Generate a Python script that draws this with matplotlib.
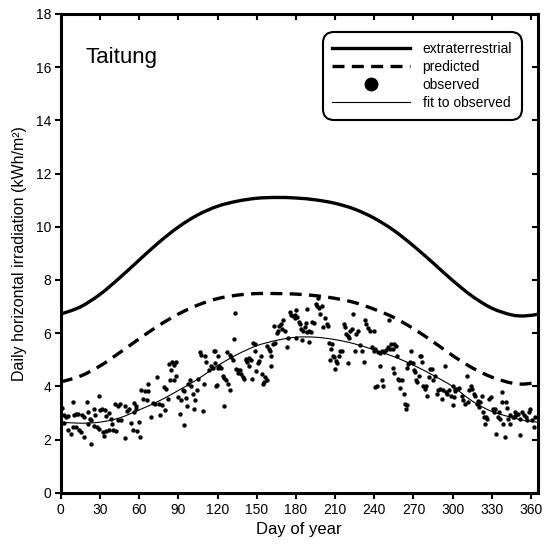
import matplotlib
matplotlib.use("Agg")
import matplotlib.pyplot as plt
from matplotlib.lines import Line2D
from matplotlib.path import Path
from matplotlib.patches import PathPatch

plt.rcParams['font.family'] = ['Liberation Sans', 'DejaVu Sans']

# Smooth curves (day of year -> kWh/m2)
curve_days = [0, 15, 30, 45, 60, 75, 90, 105, 120, 135, 150, 165, 180, 195, 210,
              225, 240, 255, 270, 285, 300, 315, 330, 345, 355, 365]
extraterrestrial = [6.72, 6.99, 7.46, 8.08, 8.75, 9.41, 9.99, 10.45, 10.77, 10.96, 11.07,
                    11.10, 11.08, 11.01, 10.88, 10.66, 10.32, 9.86, 9.28, 8.64, 7.98,
                    7.39, 6.94, 6.69, 6.65, 6.71]
predicted = [4.17, 4.39, 4.77, 5.27, 5.79, 6.29, 6.72, 7.06, 7.30, 7.43, 7.49, 7.49,
             7.47, 7.41, 7.31, 7.15, 6.90, 6.59, 6.17, 5.68, 5.16, 4.70, 4.35, 4.13,
             4.09, 4.16]
fit_observed = [2.66, 2.62, 2.66, 2.82, 3.12, 3.45, 3.85, 4.28, 4.78, 5.20, 5.53, 5.73,
                5.85, 5.85, 5.76, 5.60, 5.37, 5.12, 4.80, 4.42, 4.00, 3.45, 3.06, 2.84,
                2.72, 2.66]

# Observed daily values
obs_day = [
    1.0, 9.4, 20.3, 29.2, 2.5, 4.3, 5.6, 10.2, 11.9, 13.2, 16.3, 17.8, 20.8, 22.1, 23.4,
    25.4, 25.9, 30.3, 31.8, 33.6, 34.8, 36.6, 41.2, 43.7, 45.0, 48.8, 50.9, 51.9, 56.0,
    57.2, 56.4, 2.5, 5.6, 7.6, 9.4, 11.9, 13.7, 15.8, 17.8, 20.8, 23.4, 25.4, 28.0, 29.0,
    32.3, 33.1, 34.8, 36.6, 39.2, 40.2, 42.0, 49.3, 53.4, 55.4, 46.3, 38.1, 43.7,
    57.2, 58.5, 59.5, 60.3, 61.5, 62.8, 64.6, 66.1, 67.1, 66.6, 68.7, 70.4, 72.2, 73.7,
    75.5, 76.3, 77.8, 79.3, 79.8, 80.9, 81.9, 82.6, 83.9, 84.4, 85.4, 86.9, 88.0, 88.5,
    90.0, 91.5, 94.1, 94.6, 96.1, 96.6, 97.6, 98.7, 99.7, 101.2, 101.7, 103.0, 104.3,
    104.8, 106.3, 107.3, 108.8, 109.3, 110.4, 111.4, 113.4, 114.9, 116.5, 117.0, 118.0,
    119.0, 92.0, 93.3, 86.4,
    118.0, 120.0, 121.3, 122.6, 120.5, 123.8, 125.1, 126.4, 127.6, 129.7, 130.2, 119.5,
    124.6, 128.2, 129.2, 131.5, 132.2, 133.3, 134.3, 135.3, 136.0, 136.8, 137.8, 139.4,
    140.4, 141.4, 142.1, 142.9, 143.7, 144.4, 145.4, 146.5, 147.5, 148.5, 149.0, 149.5,
    151.0, 152.1, 153.1, 154.1, 155.1, 155.9, 156.6, 157.7, 158.2, 159.2, 160.0, 160.7,
    161.2, 162.2, 163.3, 164.3, 165.3, 166.3, 167.3, 168.3, 169.6, 170.4, 171.4, 172.9,
    173.9, 175.5, 176.5, 177.5, 179.0, 180.0,
    179.0, 180.0, 181.0, 182.1, 183.1, 184.1, 185.6, 186.6, 187.6, 188.2, 188.7, 189.7,
    191.2, 192.5, 193.8, 195.0, 196.3, 196.8, 197.8, 198.8, 199.9, 200.9, 202.4, 203.4,
    204.4, 184.9, 189.9, 205.4, 206.5, 207.5, 208.5, 209.5, 210.5, 211.6, 212.6, 214.1,
    215.6, 216.6, 217.7, 218.7, 219.7, 220.7, 221.7, 222.7, 223.8, 225.3, 226.3, 227.3,
    228.8, 230.4, 231.9, 232.9, 233.9, 234.9, 236.5, 238.5, 239.5, 240.5, 210.0, 220.2,
    206.0,
    240.0, 240.8, 242.6, 244.1, 245.9, 247.1, 249.2, 250.2, 250.9, 252.2, 252.7, 254.3,
    255.3, 256.3, 257.3, 244.6, 242.0, 245.6, 246.6, 254.8, 254.3, 257.8, 258.8, 260.9,
    259.8, 262.4, 263.4, 264.2, 264.9, 264.9, 265.9, 267.0, 268.0, 269.5, 270.5, 271.5,
    272.1, 272.8, 274.1, 274.6, 275.6, 276.6, 277.6, 278.7, 279.7, 280.2, 281.5, 282.7,
    284.3, 285.3, 286.5, 287.8, 289.1, 290.4, 291.6, 292.9, 294.2, 295.0, 296.0, 297.5,
    298.5, 300.0, 301.0, 301.8,
    300.5, 301.8, 303.6, 305.1, 306.9, 308.1, 309.7, 310.7, 311.9, 312.7, 313.7, 314.7,
    316.3, 317.3, 318.3, 319.1, 319.8, 320.8, 322.1, 323.4, 323.9, 324.7, 325.4, 326.4,
    328.0, 329.0, 330.5, 331.5, 332.3, 333.1, 334.8, 335.6, 336.1, 337.4, 338.1, 338.6,
    339.9, 340.7, 341.2, 342.5, 343.7, 344.2, 345.8, 346.8, 347.5, 348.8, 350.1, 351.4,
    351.9, 353.4, 354.4, 355.9, 357.0, 358.5, 359.5, 361.0, 362.0, 362.8,
]
obs_val = [
    3.20, 3.41, 3.41, 3.64, 2.91, 2.85, 2.88, 2.91, 2.98, 2.95, 2.93, 2.85, 3.04, 2.79, 2.73,
    3.16, 2.91, 3.13, 3.16, 3.13, 2.88, 3.00, 3.33, 3.25, 3.33, 3.25, 3.08, 3.16, 3.38,
    3.25, 3.04, 2.63, 2.38, 2.23, 2.48, 2.48, 2.35, 2.28, 2.10, 2.58, 1.85, 2.50, 2.48, 2.41,
    2.29, 2.13, 2.33, 2.35, 2.58, 2.35, 2.33, 2.08, 2.63, 2.35, 2.75, 2.79, 2.73,
    3.16, 2.33, 2.66, 2.10, 3.85, 3.54, 3.83, 3.48, 3.83, 4.08, 2.85, 3.38, 3.35, 4.35,
    3.35, 2.91, 3.29, 3.98, 3.10, 3.91, 3.54, 4.85, 4.25, 4.60, 4.91, 4.79, 4.91, 4.38,
    3.60, 2.95, 2.54, 3.83, 3.58, 3.25, 4.10, 4.23, 4.00, 3.73, 3.16, 3.48, 3.85,
    4.28, 5.29, 5.20, 3.08, 4.10, 5.13, 4.91, 4.60, 4.75, 4.70, 5.35, 4.88,
    4.00, 3.48, 3.85, 4.23,
    5.35, 5.16, 4.75, 4.70, 4.70, 4.41, 4.33, 4.25, 5.29, 5.20, 5.10, 4.04,
    3.25, 4.08, 3.88, 4.98, 5.79, 6.75, 4.66, 4.60, 4.50, 4.63, 4.45, 4.35,
    4.28, 4.98, 5.04, 4.91, 4.75, 5.08, 4.98, 4.28, 5.65, 5.58, 5.35, 4.58,
    4.88, 4.95, 5.15, 4.45, 4.08, 4.15, 4.35, 4.23, 5.53, 5.40, 5.33, 5.15,
    4.78, 5.60, 6.28, 5.63, 6.00, 6.10, 6.28, 6.33, 6.16, 6.48, 6.10, 5.48,
    5.83, 6.78, 6.70, 6.65, 6.58, 5.83,
    6.70, 6.88, 6.60, 6.41, 6.35, 6.16, 6.10, 6.23, 6.38, 6.04, 6.91, 6.10,
    6.04, 6.41, 6.38, 7.08, 7.03, 7.33, 6.95, 6.73, 7.03, 6.23, 6.58, 6.35,
    6.28, 5.73, 5.66, 5.65, 5.41, 5.60, 5.16, 5.10, 4.95, 4.88, 5.15, 5.35,
    5.33, 6.35, 6.23, 5.98, 5.88, 5.83, 6.10, 6.15, 6.73, 5.35, 5.98, 6.08,
    5.54, 5.35, 4.91, 6.48, 6.35, 6.20, 6.10, 5.50, 5.35, 3.98, 4.66, 4.88,
    4.98,
    6.10, 5.41, 5.29, 5.25, 5.35, 5.29, 5.38, 5.50, 6.50, 5.41, 5.60, 5.41,
    5.58, 5.53, 5.15, 4.75, 4.00, 4.25, 4.03, 4.50, 4.70, 4.29, 4.23, 4.23,
    3.95, 3.73, 3.35, 3.16, 3.29, 4.70, 4.85, 4.91, 5.33, 4.90, 4.60, 4.53,
    4.23, 4.16, 4.41, 5.13, 5.15, 4.91, 4.00, 3.90, 4.00, 3.66, 4.35, 4.65,
    4.65, 4.23, 4.38, 3.73, 3.85, 3.91, 3.54, 3.85, 4.75, 3.79, 3.73, 3.85,
    3.66, 3.29, 3.60, 3.91,
    4.00, 3.83, 3.91, 3.95, 3.66, 3.48, 3.35, 4.41, 3.41, 3.85, 4.00, 3.91,
    3.73, 3.66, 3.35, 3.45, 3.23, 3.41, 3.66, 3.04, 2.85, 2.60, 2.85, 2.79,
    3.54, 3.60, 3.16, 3.04, 3.16, 2.23, 2.85, 3.04, 2.79, 3.79, 3.41, 2.60,
    2.10, 3.41, 3.20, 2.79, 2.60, 2.91, 2.85, 2.85, 3.04, 2.91, 2.98, 2.16,
    2.79, 3.04, 2.91, 2.85, 2.73, 3.04, 3.16, 2.73, 2.48, 2.85,
]

x_ticks = list(range(0, 361, 30))
y_ticks = list(range(0, 19, 2))


def smooth_path(xs, ys):
    """Catmull-Rom style cubic Bezier path through the given points."""
    n = len(xs)
    verts = [(xs[0], ys[0])]
    codes = [Path.MOVETO]
    for i in range(n - 1):
        x0, y0 = (xs[i - 1], ys[i - 1]) if i > 0 else (xs[i], ys[i])
        x1, y1 = xs[i], ys[i]
        x2, y2 = xs[i + 1], ys[i + 1]
        x3, y3 = (xs[i + 2], ys[i + 2]) if i + 2 < n else (xs[i + 1], ys[i + 1])
        c1 = (x1 + (x2 - x0) / 6.0, y1 + (y2 - y0) / 6.0)
        c2 = (x2 - (x3 - x1) / 6.0, y2 - (y3 - y1) / 6.0)
        verts += [c1, c2, (x2, y2)]
        codes += [Path.CURVE4, Path.CURVE4, Path.CURVE4]
    return Path(verts, codes)


fig = plt.figure(figsize=(5.48, 5.52), dpi=100)
ax = fig.add_axes([0.111, 0.107, 0.870, 0.868])

ax.add_patch(PathPatch(smooth_path(curve_days, extraterrestrial), fill=False,
                       edgecolor='black', lw=2.4, capstyle='butt'))
ax.add_patch(PathPatch(smooth_path(curve_days, predicted), fill=False,
                       edgecolor='black', lw=2.4, linestyle=(0, (3.6, 2.2)),
                       capstyle='butt'))
ax.scatter(obs_day, obs_val, s=10, color='black', linewidths=0, zorder=3)
ax.add_patch(PathPatch(smooth_path(curve_days, fit_observed), fill=False,
                       edgecolor='black', lw=0.8, zorder=4))

ax.set_xlim(0, 365)
ax.set_ylim(0, 18)
ax.set_xticks(x_ticks)
ax.set_yticks(y_ticks)
ax.tick_params(axis='both', which='both', direction='out', length=4, width=1.5,
               labelsize=10, pad=3)
ax.tick_params(top=True, right=True)
for t in ax.xaxis.get_major_ticks():
    t.tick2line.set_marker(3)  # inward on top
    t.tick2line.set_markersize(4)
for t in ax.yaxis.get_major_ticks():
    t.tick2line.set_marker(0)  # inward on right
    t.tick2line.set_markersize(4)

for s in ax.spines.values():
    s.set_linewidth(2.2)

ax.set_xlabel('Day of year', fontsize=12, labelpad=4)
ax.set_ylabel('Daily horizontal irradiation (kWh/m\u00b2)', fontsize=11.5, labelpad=6)

ax.text(0.052, 0.898, 'Taitung', transform=ax.transAxes, fontsize=16,
        ha='left', va='baseline')

handles = [
    Line2D([], [], color='black', lw=2.4),
    Line2D([], [], color='black', lw=2.4, dashes=(3.6, 2.2)),
    Line2D([], [], color='black', marker='o', ls='none', ms=9),
    Line2D([], [], color='black', lw=0.8),
]
labels = ['extraterrestrial', 'predicted', 'observed', 'fit to observed']
leg = ax.legend(handles, labels, loc='upper right', bbox_to_anchor=(0.967, 0.962),
                borderaxespad=0, fontsize=10, handlelength=5.6, handletextpad=0.9,
                labelspacing=0.3, frameon=True, fancybox=True, borderpad=0.7)
frame = leg.get_frame()
frame.set_edgecolor('black')
frame.set_linewidth(1.5)
frame.set_alpha(1)
frame.set_boxstyle('round,pad=0,rounding_size=0.8')

fig.savefig('out.png', dpi=100)
